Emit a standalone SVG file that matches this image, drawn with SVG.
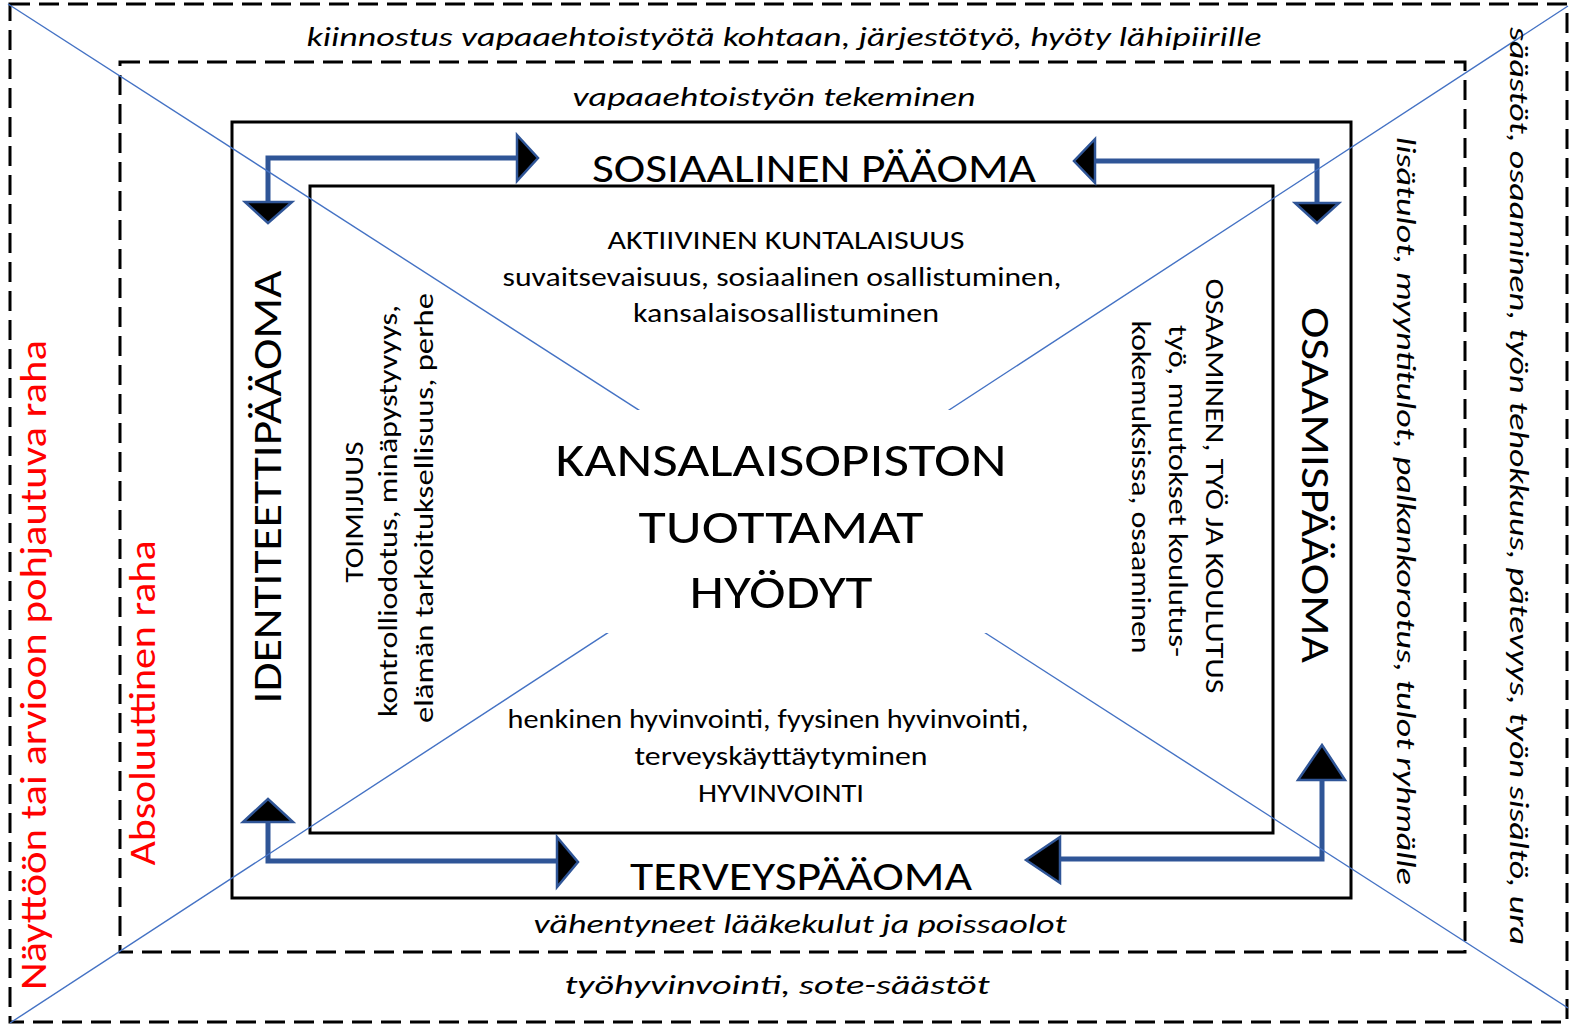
<svg xmlns="http://www.w3.org/2000/svg" width="1569" height="1025" viewBox="0 0 1569 1025">
<style>
text{font-family:Carlito,Calibri,Lato,"Liberation Sans",sans-serif;fill:#000;text-anchor:middle}
.it{font-style:italic;font-size:27px}
.hd{font-size:42px}
.bd{font-size:27px}
.big{font-size:48px}
.red{fill:#ff0000;font-size:37px}
.dash{fill:none;stroke:#000;stroke-width:3;stroke-dasharray:20 9}
.solid{fill:none;stroke:#000;stroke-width:3}
.diag{stroke:#4472c4;stroke-width:1.4;fill:none}
.con{fill:none;stroke:#2f5597;stroke-width:5}
.head{fill:#000;stroke:#2f5597;stroke-width:2.5;stroke-linejoin:miter}
</style>
<rect width="1569" height="1025" fill="#fff"/>
<g id="outer-frame">
<rect class="dash" x="10" y="4" width="1557" height="1018"/>
</g>
<g id="middle-frame">
<rect class="dash" x="120" y="62" width="1345" height="890"/>
</g>
<g id="capital-frame">
<rect class="solid" x="232" y="122" width="1119" height="776"/>
</g>
<g id="inner-box">
<rect class="solid" x="310" y="186" width="963" height="647"/>
</g>
<g id="connectors">
<path class="con" d="M517,158 H268 V203"/>
<polygon class="head" points="517,135 538,158 517,181"/>
<polygon class="head" points="245,202 292,202 268,223"/>
<path class="con" d="M1095,161 H1317 V204"/>
<polygon class="head" points="1095,139 1074,161 1095,183"/>
<polygon class="head" points="1295,203 1339,203 1317,223"/>
<path class="con" d="M268,821 V861 H557"/>
<polygon class="head" points="243,822 293,822 268,799"/>
<polygon class="head" points="557,837 578,862 557,887"/>
<path class="con" d="M1322,779 V859 H1059"/>
<polygon class="head" points="1298,780 1345,780 1322,745"/>
<polygon class="head" points="1060,837 1026,860 1060,883"/>
</g>
<g id="diagonals">
<line class="diag" x1="8" y1="4" x2="1568" y2="1008"/>
<line class="diag" x1="10" y1="1023" x2="1568" y2="6"/>
</g>
<g id="center">
<rect x="604" y="410" width="383" height="223" fill="#fff"/>
<text class="big" x="781" y="476" textLength="451" lengthAdjust="spacingAndGlyphs">KANSALAISOPISTON</text>
<text class="big" x="781" y="543" textLength="285" lengthAdjust="spacingAndGlyphs">TUOTTAMAT</text>
<text class="big" x="781" y="608" textLength="183" lengthAdjust="spacingAndGlyphs">HYÖDYT</text>
</g>
<g id="outer-labels">
<text class="it" x="784" y="46" textLength="955" lengthAdjust="spacingAndGlyphs">kiinnostus vapaaehtoistyötä kohtaan, järjestötyö, hyöty lähipiirille</text>
<text class="it" x="777" y="994" textLength="425" lengthAdjust="spacingAndGlyphs">työhyvinvointi, sote-säästöt</text>
<text class="it" transform="translate(1510,486) rotate(90)" textLength="918" lengthAdjust="spacingAndGlyphs">säästöt, osaaminen, työn tehokkuus, pätevyys, työn sisältö, ura</text>
<text class="red" transform="translate(46,665) rotate(-90)" textLength="650" lengthAdjust="spacingAndGlyphs">Näyttöön tai arvioon pohjautuva raha</text>
</g>
<g id="middle-labels">
<text class="it" x="774" y="106" textLength="403" lengthAdjust="spacingAndGlyphs">vapaaehtoistyön tekeminen</text>
<text class="it" x="800" y="933" textLength="533" lengthAdjust="spacingAndGlyphs">vähentyneet lääkekulut ja poissaolot</text>
<text class="it" transform="translate(1397,511) rotate(90)" textLength="748" lengthAdjust="spacingAndGlyphs">lisätulot, myyntitulot, palkankorotus, tulot ryhmälle</text>
<text class="red" transform="translate(155,703) rotate(-90)" textLength="325" lengthAdjust="spacingAndGlyphs">Absoluuttinen raha</text>
</g>
<g id="sosiaalinen">
<text class="hd" x="814" y="182" textLength="444" lengthAdjust="spacingAndGlyphs">SOSIAALINEN PÄÄOMA</text>
<text class="bd" x="786" y="249" textLength="357" lengthAdjust="spacingAndGlyphs">AKTIIVINEN KUNTALAISUUS</text>
<text class="bd" x="782" y="286" textLength="559" lengthAdjust="spacingAndGlyphs">suvaitsevaisuus, sosiaalinen osallistuminen,</text>
<text class="bd" x="786" y="322" textLength="306" lengthAdjust="spacingAndGlyphs">kansalaisosallistuminen</text>
</g>
<g id="terveys">
<text class="hd" x="801" y="890" textLength="342" lengthAdjust="spacingAndGlyphs">TERVEYSPÄÄOMA</text>
<text class="bd" x="768" y="728" textLength="521" lengthAdjust="spacingAndGlyphs">henkinen hyvinvointi, fyysinen hyvinvointi,</text>
<text class="bd" x="781" y="765" textLength="293" lengthAdjust="spacingAndGlyphs">terveyskäyttäytyminen</text>
<text class="bd" x="781" y="802" textLength="166" lengthAdjust="spacingAndGlyphs">HYVINVOINTI</text>
</g>
<g id="identiteetti">
<text class="hd" transform="translate(281,487) rotate(-90)" textLength="433" lengthAdjust="spacingAndGlyphs">IDENTITEETTIPÄÄOMA</text>
<text class="bd" transform="translate(363,512) rotate(-90)" textLength="141" lengthAdjust="spacingAndGlyphs">TOIMIJUUS</text>
<text class="bd" transform="translate(397,511) rotate(-90)" textLength="412" lengthAdjust="spacingAndGlyphs">kontrolliodotus, minäpystyvyys,</text>
<text class="bd" transform="translate(433,508) rotate(-90)" textLength="430" lengthAdjust="spacingAndGlyphs">elämän tarkoituksellisuus, perhe</text>
</g>
<g id="osaamis">
<text class="hd" transform="translate(1302,485) rotate(90)" textLength="356" lengthAdjust="spacingAndGlyphs">OSAAMISPÄÄOMA</text>
<text class="bd" transform="translate(1206,486) rotate(90)" textLength="415" lengthAdjust="spacingAndGlyphs">OSAAMINEN, TYÖ JA KOULUTUS</text>
<text class="bd" transform="translate(1169,491) rotate(90)" textLength="332" lengthAdjust="spacingAndGlyphs">työ, muutokset koulutus-</text>
<text class="bd" transform="translate(1132,487) rotate(90)" textLength="333" lengthAdjust="spacingAndGlyphs">kokemuksissa, osaaminen</text>
</g>
</svg>
